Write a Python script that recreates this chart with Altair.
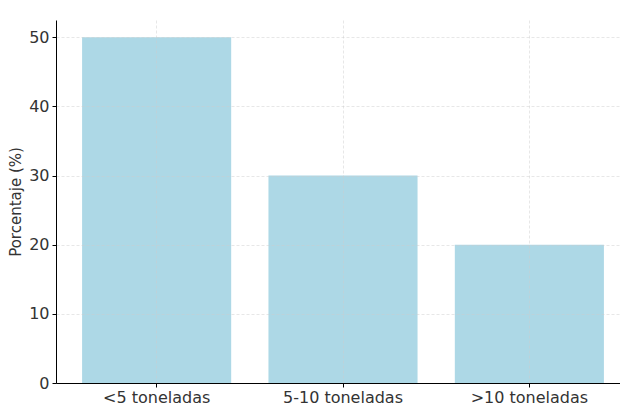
import altair as alt
import pandas as pd

categories = ["<5 toneladas", "5-10 toneladas", ">10 toneladas"]
values = [50, 30, 20]

df = pd.DataFrame({"cat": categories, "val": values})

chart = alt.Chart(df).mark_bar(color="#ADD8E6").encode(
    x=alt.X("cat:N", sort=categories, title=None,
            scale=alt.Scale(paddingInner=0.2, paddingOuter=0.14, range=[0, 574]),
            axis=alt.Axis(labelAngle=0, bandPosition=0.5, grid=True,
                          gridColor="#cccccc", gridDash=[3, 2], gridWidth=0.8,
                          gridOpacity=0.6, domainColor="#000000", tickColor="#000000",
                          tickSize=4, labelFontSize=16, labelColor="#333333",
                          labelFont="DejaVu Sans", labelPadding=2, zindex=1)),
    y=alt.Y("val:Q", title="Porcentaje (%)",
            scale=alt.Scale(domain=[0, 52.5], nice=False),
            axis=alt.Axis(values=[0, 10, 20, 30, 40, 50], grid=True,
                          gridColor="#cccccc", gridDash=[3, 2], gridWidth=0.8,
                          gridOpacity=0.6, domainColor="#000000", tickColor="#000000",
                          tickSize=4, labelFontSize=16, labelColor="#333333",
                          labelFont="DejaVu Sans", titleFont="DejaVu Sans",
                          titleFontSize=15, titleFontWeight="normal", titleColor="#333333",
                          titlePadding=5, labelPadding=3, zindex=1)),
).properties(
    width=564, height=363,
    autosize=alt.AutoSizeParams(type="none"),
    padding={"left": 48, "right": 0, "top": 12, "bottom": 26},
).configure_view(stroke=None)

chart.save("out.html", embed_options={"renderer": "svg", "actions": False})
